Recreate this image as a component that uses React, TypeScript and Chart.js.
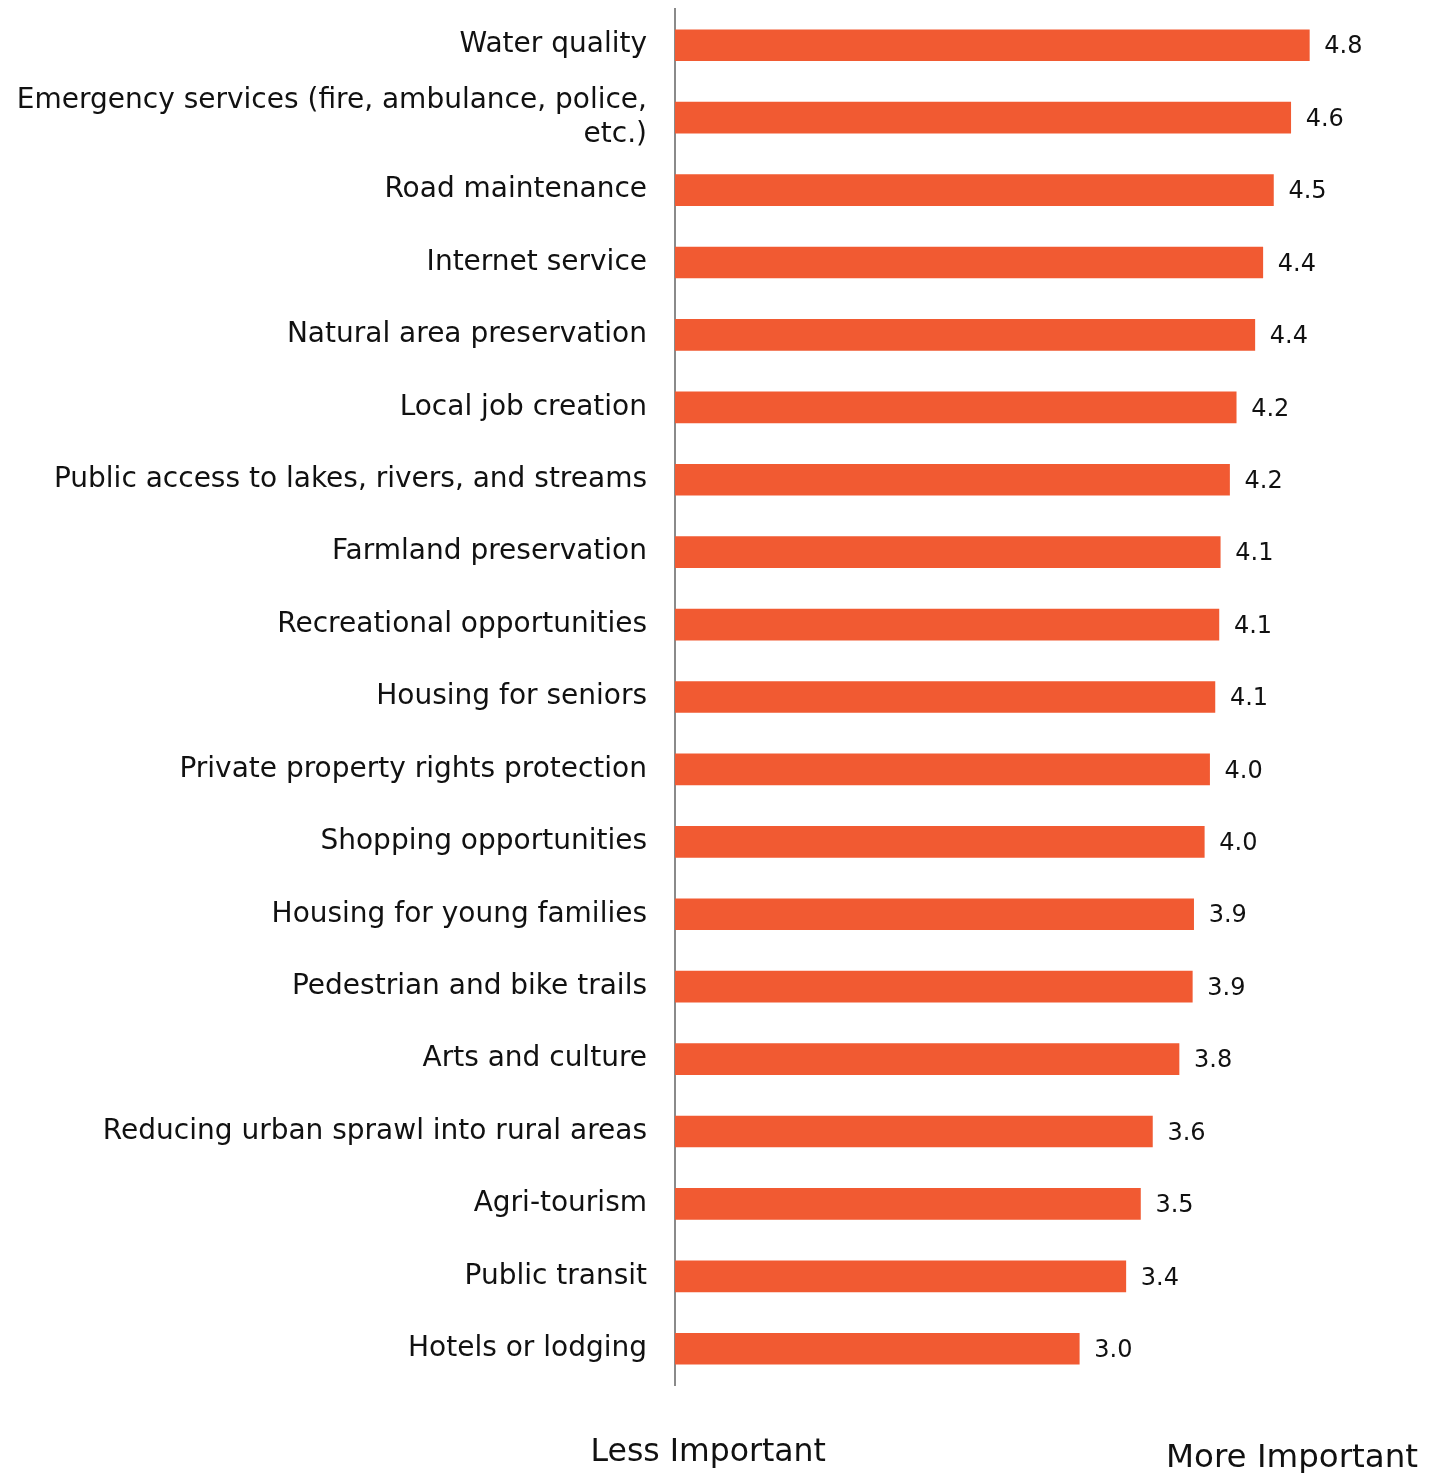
import React, { useEffect, useRef } from "react";
import { Chart, registerables } from "chart.js";

Chart.register(...registerables);

const categories: (string | string[])[] = [
  "Water quality",
  ["Emergency services (fire, ambulance, police,", "etc.)"],
  "Road maintenance",
  "Internet service",
  "Natural area preservation",
  "Local job creation",
  "Public access to lakes, rivers, and streams",
  "Farmland preservation",
  "Recreational opportunities",
  "Housing for seniors",
  "Private property rights protection",
  "Shopping opportunities",
  "Housing for young families",
  "Pedestrian and bike trails",
  "Arts and culture",
  "Reducing urban sprawl into rural areas",
  "Agri-tourism",
  "Public transit",
  "Hotels or lodging",
];

const scores: number[] = [
  4.77, 4.63, 4.5, 4.42, 4.36, 4.22, 4.17, 4.1, 4.09, 4.06, 4.02, 3.98, 3.9,
  3.89, 3.79, 3.59, 3.5, 3.39, 3.04,
];

const endLabels: string[] = ["Less Important", "More Important"];
const endLabelValues: number[] = [0.25, 4.64];

const FONT = "'DejaVu Sans', sans-serif";
const BAR_COLOR = "#F15A32";

export default function App() {
  const ref = useRef<HTMLCanvasElement | null>(null);

  useEffect(() => {
    document.body.style.margin = "0";
    const canvas = ref.current;
    if (!canvas) return;

    const valueLabels = {
      id: "valueLabels",
      afterDatasetsDraw(chart: any) {
        const ctx = chart.ctx;
        const meta = chart.getDatasetMeta(0);
        ctx.save();
        ctx.font = `24px ${FONT}`;
        ctx.fillStyle = "#111";
        ctx.textAlign = "left";
        ctx.textBaseline = "middle";
        meta.data.forEach((bar: any, i: number) => {
          ctx.fillText(scores[i].toFixed(1), bar.x + 15, bar.y + 2);
        });
        ctx.restore();
      },
    };

    const endText = {
      id: "endText",
      afterDraw(chart: any) {
        const ctx = chart.ctx;
        const xs = chart.scales.x;
        ctx.save();
        ctx.fillStyle = "#111";
        ctx.textAlign = "center";
        ctx.textBaseline = "middle";
        ctx.font = `31.5px ${FONT}`;
        ctx.fillText(endLabels[0], xs.getPixelForValue(endLabelValues[0]), 1453);
        ctx.font = `32.5px ${FONT}`;
        ctx.fillText(endLabels[1], xs.getPixelForValue(endLabelValues[1]), 1459);
        ctx.restore();
      },
    };

    const chart = new Chart(canvas, {
      type: "bar",
      data: {
        labels: categories,
        datasets: [
          {
            data: scores,
            backgroundColor: BAR_COLOR,
            borderWidth: 0,
            barThickness: 31,
          },
        ],
      },
      options: {
        indexAxis: "y",
        responsive: false,
        animation: false,
        layout: { padding: { top: 9, bottom: 88, right: 0, left: 0 } },
        plugins: {
          legend: { display: false },
          tooltip: { enabled: false },
        },
        scales: {
          x: {
            min: 0,
            max: 5.73,
            display: false,
          },
          y: {
            grid: { display: false, drawTicks: false },
            border: { display: true, color: "#8a8a8a", width: 2 },
            ticks: {
              padding: 28,
              color: "#111",
              font: { family: FONT, size: 28, lineHeight: 1.2 },
              autoSkip: false,
            },
            afterFit(scale: any) {
              scale.width = 675;
              scale.paddingTop = 0;
              scale.paddingBottom = 0;
            },
          },
        },
      },
      plugins: [valueLabels, endText],
    });

    return () => chart.destroy();
  }, []);

  return (
    <div style={{ width: 1437, height: 1473 }}>
      <canvas ref={ref} width={1437} height={1473} />
    </div>
  );
}
